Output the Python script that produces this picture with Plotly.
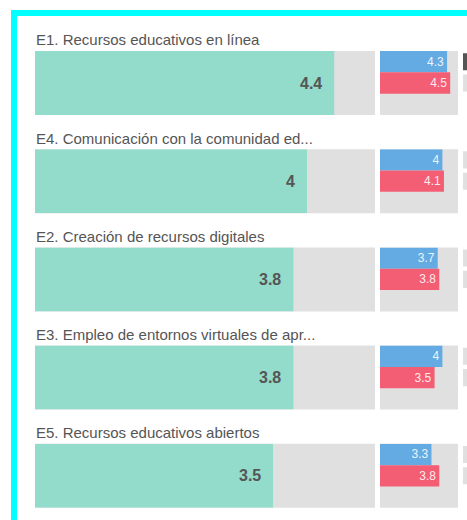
import plotly.graph_objects as go

W, H = 467, 520

# ---- data ----
categorias = [
    "E1. Recursos educativos en línea",
    "E4. Comunicación con la comunidad ed...",
    "E2. Creación de recursos digitales",
    "E3. Empleo de entornos virtuales de apr...",
    "E5. Recursos educativos abiertos",
]
promedio = [4.4, 4.0, 3.8, 3.8, 3.5]
serie_azul = [4.3, 4.0, 3.7, 4.0, 3.3]
serie_roja = [4.5, 4.1, 3.8, 3.5, 3.8]
escala_max = 5
# third (cropped) column: only a sliver visible
tercera_oscura = [1, 0, 0, 0, 0]

# ---- styles ----
TEAL = "#93dbcb"
GRAY = "#e0e0e0"
BLUE = "#64abe3"
RED = "#f45e74"
DARK = "#555555"
TXT = "#555555"
FONT = "Liberation Sans, Arial, sans-serif"

def px(xp):   # pixel x -> paper
    return xp / W

def py(yp):   # pixel y -> paper
    return 1 - yp / H

top0, pitch, bh = 51, 98.2, 64
panels_x = [(35, 375), (380, 458), (463, W)]

fig = go.Figure()
layout = dict(
    width=W, height=H,
    margin=dict(l=0, r=0, t=0, b=0),
    paper_bgcolor="white", plot_bgcolor="rgba(0,0,0,0)",
    showlegend=False, barmode="overlay",
    annotations=[], shapes=[],
)

def fmt(v):
    return f"{v:g}"

for r in range(5):
    top = top0 + pitch * r
    bot = top + bh
    yd = [max(0, py(bot)), py(top)]
    for p in range(3):
        idx = r * 3 + p + 1
        xn = "x" if idx == 1 else f"x{idx}"
        yn = "y" if idx == 1 else f"y{idx}"
        xa = "xaxis" if idx == 1 else f"xaxis{idx}"
        ya = "yaxis" if idx == 1 else f"yaxis{idx}"
        x0, x1 = panels_x[p]
        if p == 2:
            layout[xa] = dict(domain=[px(x0), 1], range=[0, (x1 - x0) / 78 * escala_max],
                              visible=False, fixedrange=True, anchor=yn)
        else:
            layout[xa] = dict(domain=[px(x0), px(x1)], range=[0, escala_max],
                              visible=False, fixedrange=True, anchor=yn)
        if p == 0:
            layout[ya] = dict(domain=yd, range=[-0.5, 0.5], visible=False,
                              fixedrange=True, anchor=xn)
        else:
            layout[ya] = dict(domain=yd, range=[2.5, -0.5], visible=False,
                              fixedrange=True, anchor=xn)

        if p < 2:
            layout["shapes"].append(dict(
                type="rect", xref=f"{xn} domain", yref=f"{yn} domain",
                x0=0, x1=1, y0=0, y1=1, fillcolor=GRAY, line=dict(width=0),
                layer="below"))

        if p == 0:
            fig.add_trace(go.Bar(
                x=[promedio[r]], y=[0], orientation="h", width=1,
                marker=dict(color=TEAL, line=dict(width=0)),
                xaxis=xn, yaxis=yn, hoverinfo="skip"))
            layout["annotations"].append(dict(
                x=promedio[r], y=0, xref=xn, yref=yn, xanchor="right",
                yanchor="middle", xshift=-10, showarrow=False,
                text=f"<b>{fmt(promedio[r])}</b>",
                font=dict(family=FONT, size=16, color=TXT)))
            layout["annotations"].append(dict(
                x=px(34), y=py(top - 11), xref="paper", yref="paper",
                xanchor="left", yanchor="middle", showarrow=False,
                text=categorias[r],
                font=dict(family=FONT, size=15, color=TXT)))
        elif p == 1:
            vals = [serie_azul[r], serie_roja[r]]
            fig.add_trace(go.Bar(
                x=vals, y=[0, 1], orientation="h", width=1,
                marker=dict(color=[BLUE, RED], line=dict(width=0)),
                text=[fmt(v) for v in vals], textposition="inside",
                insidetextanchor="end",
                textfont=dict(family=FONT, size=12, color="rgba(255,255,255,0.9)"),
                xaxis=xn, yaxis=yn, hoverinfo="skip"))
        else:
            fig.add_trace(go.Bar(
                x=[escala_max, escala_max], y=[0, 1], orientation="h", width=0.8,
                marker=dict(color=[DARK if tercera_oscura[r] else GRAY, GRAY],
                            line=dict(width=0)),
                xaxis=xn, yaxis=yn, hoverinfo="skip"))

# cyan frame (cropped screenshot border): left band and top band
layout["shapes"].append(dict(
    type="rect", xref="paper", yref="paper",
    x0=px(11), x1=px(17), y0=0, y1=py(10),
    line=dict(width=0), fillcolor="#00ffff", layer="above"))
layout["shapes"].append(dict(
    type="rect", xref="paper", yref="paper",
    x0=px(11), x1=1, y0=py(16), y1=py(10),
    line=dict(width=0), fillcolor="#00ffff", layer="above"))

fig.update_layout(**layout)
fig.write_html(
    "out.html",
    config={"displayModeBar": False, "staticPlot": True},
    post_script=(
        "document.documentElement.style.margin='0';"
        "document.documentElement.style.overflow='hidden';"
        "document.body.style.margin='0';"
        "document.body.style.overflow='hidden';"
    ),
)
